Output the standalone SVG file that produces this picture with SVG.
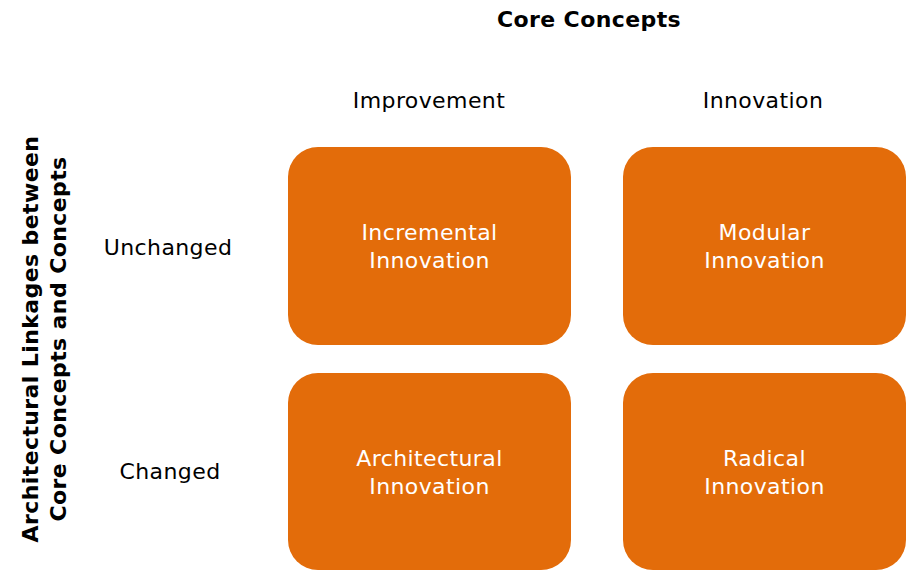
<svg xmlns="http://www.w3.org/2000/svg" width="920" height="578" viewBox="0 0 920 578">
<style>
text{font-family:"DejaVu Sans","Verdana",sans-serif;font-size:22px;letter-spacing:0.4px;text-anchor:middle;fill:#000}
.b{font-weight:bold}
.w{fill:#fff}
.box{fill:#E36C0A}
</style>
<rect width="920" height="578" fill="#fff"/>
<g id="headers">
<text class="b" x="589" y="27">Core Concepts</text>
<text x="429" y="108">Improvement</text>
<text x="763" y="108">Innovation</text>
<text x="168" y="255">Unchanged</text>
<text x="170" y="479">Changed</text>
<g transform="translate(38,339) rotate(-90)">
<text class="b" x="0" y="0">Architectural Linkages between</text>
<text class="b" x="0" y="28">Core Concepts and Concepts</text>
</g>
</g>
<g id="connectors"></g>
<g id="incremental">
<rect class="box" x="288" y="147" width="283" height="198" rx="30"/>
<text class="w" x="429.5" y="240">Incremental</text>
<text class="w" x="429.5" y="268">Innovation</text>
</g>
<g id="modular">
<rect class="box" x="623" y="147" width="283" height="198" rx="30"/>
<text class="w" x="764.5" y="240">Modular</text>
<text class="w" x="764.5" y="268">Innovation</text>
</g>
<g id="architectural">
<rect class="box" x="288" y="373" width="283" height="197" rx="30"/>
<text class="w" x="429.5" y="466">Architectural</text>
<text class="w" x="429.5" y="494">Innovation</text>
</g>
<g id="radical">
<rect class="box" x="623" y="373" width="283" height="197" rx="30"/>
<text class="w" x="764.5" y="466">Radical</text>
<text class="w" x="764.5" y="494">Innovation</text>
</g>
</svg>
